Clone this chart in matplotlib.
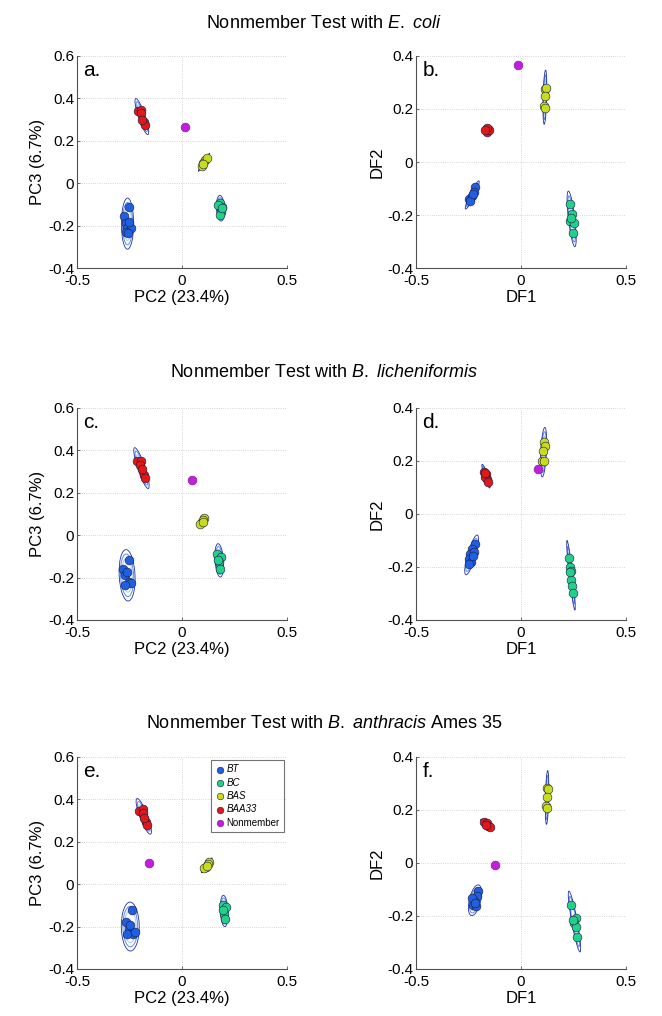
import numpy as np
import matplotlib
matplotlib.use("Agg")
import matplotlib.pyplot as plt
from matplotlib.patches import Ellipse

plt.rcParams['font.family'] = ['Liberation Sans', 'DejaVu Sans']
plt.rcParams['mathtext.fontset'] = 'custom'
plt.rcParams['mathtext.rm'] = 'Liberation Sans'
plt.rcParams['mathtext.it'] = 'Liberation Sans:italic'

GROUPS = ["BT", "BC", "BAS", "BAA33"]
COLORS = {"BT": "#1f5fe0", "BC": "#22d08a", "BAS": "#c8dc1e", "BAA33": "#e01818"}
NONMEMBER_COLOR = "#c21ee0"

# --- panel a: PCA, nonmember E. coli ---
a_bt_x = [-0.252, -0.275, -0.267, -0.260, -0.244, -0.267, -0.252, -0.258]
a_bt_y = [-0.110, -0.157, -0.189, -0.213, -0.213, -0.228, -0.181, -0.235]
a_bc_x = [0.181, 0.189, 0.173, 0.184, 0.181, 0.192]
a_bc_y = [-0.094, -0.110, -0.102, -0.134, -0.150, -0.118]
a_bas_x = [0.094, 0.110, 0.102, 0.118, 0.100]
a_bas_y = [0.082, 0.110, 0.094, 0.118, 0.090]
a_baa_x = [-0.209, -0.193, -0.197, -0.181, -0.178, -0.189]
a_baa_y = [0.342, 0.346, 0.331, 0.291, 0.276, 0.299]
a_non = (0.013, 0.265)

# --- panel b: DFA, nonmember E. coli ---
b_bt_x = [-0.249, -0.217, -0.233, -0.225, -0.241, -0.228]
b_bt_y = [-0.140, -0.096, -0.128, -0.115, -0.147, -0.120]
b_bc_x = [0.232, 0.243, 0.235, 0.251, 0.248, 0.238]
b_bc_y = [-0.159, -0.198, -0.223, -0.230, -0.268, -0.210]
b_bas_x = [0.113, 0.118, 0.110, 0.116, 0.112]
b_bas_y = [0.275, 0.281, 0.211, 0.205, 0.250]
b_baa_x = [-0.165, -0.155, -0.160, -0.150, -0.163, -0.170]
b_baa_y = [0.120, 0.125, 0.113, 0.120, 0.130, 0.122]
b_non = (-0.014, 0.365)

# --- panel c: PCA, nonmember B. licheniformis ---
c_bt_x = [-0.253, -0.280, -0.269, -0.253, -0.242, -0.272, -0.261]
c_bt_y = [-0.119, -0.159, -0.190, -0.222, -0.225, -0.235, -0.175]
c_bc_x = [0.169, 0.188, 0.177, 0.180, 0.173]
c_bc_y = [-0.087, -0.103, -0.127, -0.159, -0.119]
c_bas_x = [0.094, 0.106, 0.100, 0.088, 0.098]
c_bas_y = [0.060, 0.079, 0.070, 0.051, 0.064]
c_baa_x = [-0.214, -0.194, -0.198, -0.183, -0.178, -0.191]
c_baa_y = [0.349, 0.349, 0.333, 0.286, 0.270, 0.310]
c_non = (0.047, 0.262)

# --- panel d: DFA, nonmember B. licheniformis ---
d_bt_x = [-0.217, -0.233, -0.241, -0.249, -0.238, -0.225, -0.249, -0.230]
d_bt_y = [-0.112, -0.131, -0.150, -0.169, -0.182, -0.143, -0.189, -0.160]
d_bc_x = [0.228, 0.235, 0.240, 0.238, 0.245, 0.248, 0.232]
d_bc_y = [-0.165, -0.200, -0.215, -0.250, -0.270, -0.300, -0.220]
d_bas_x = [0.108, 0.113, 0.100, 0.111, 0.105]
d_bas_y = [0.270, 0.257, 0.200, 0.200, 0.238]
d_baa_x = [-0.175, -0.165, -0.160, -0.170, -0.158, -0.172]
d_baa_y = [0.160, 0.150, 0.130, 0.140, 0.120, 0.155]
d_non = (0.079, 0.171)

# --- panel e: PCA, nonmember B. anthracis Ames 35 ---
e_bt_x = [-0.237, -0.266, -0.253, -0.234, -0.261, -0.247, -0.226]
e_bt_y = [-0.123, -0.179, -0.210, -0.234, -0.234, -0.194, -0.226]
e_bc_x = [0.196, 0.209, 0.201, 0.204, 0.193]
e_bc_y = [-0.100, -0.107, -0.139, -0.163, -0.123]
e_bas_x = [0.114, 0.130, 0.122, 0.106, 0.118]
e_bas_y = [0.082, 0.106, 0.095, 0.074, 0.086]
e_baa_x = [-0.203, -0.187, -0.184, -0.171, -0.168, -0.179]
e_baa_y = [0.343, 0.354, 0.335, 0.295, 0.280, 0.311]
e_non = (-0.155, 0.098)

# --- panel f: DFA, nonmember B. anthracis Ames 35 ---
f_bt_x = [-0.203, -0.211, -0.223, -0.230, -0.214, -0.234, -0.218]
f_bt_y = [-0.107, -0.126, -0.145, -0.158, -0.164, -0.133, -0.152]
f_bc_x = [0.239, 0.260, 0.252, 0.260, 0.268, 0.249]
f_bc_y = [-0.158, -0.208, -0.227, -0.240, -0.278, -0.215]
f_bas_x = [0.124, 0.128, 0.121, 0.126, 0.122]
f_bas_y = [0.284, 0.278, 0.215, 0.208, 0.250]
f_baa_x = [-0.175, -0.163, -0.155, -0.147, -0.166]
f_baa_y = [0.154, 0.149, 0.141, 0.136, 0.144]
f_non = (-0.126, -0.006)

panels = [
    ("a.", [(a_bt_x, a_bt_y), (a_bc_x, a_bc_y), (a_bas_x, a_bas_y), (a_baa_x, a_baa_y)], a_non),
    ("b.", [(b_bt_x, b_bt_y), (b_bc_x, b_bc_y), (b_bas_x, b_bas_y), (b_baa_x, b_baa_y)], b_non),
    ("c.", [(c_bt_x, c_bt_y), (c_bc_x, c_bc_y), (c_bas_x, c_bas_y), (c_baa_x, c_baa_y)], c_non),
    ("d.", [(d_bt_x, d_bt_y), (d_bc_x, d_bc_y), (d_bas_x, d_bas_y), (d_baa_x, d_baa_y)], d_non),
    ("e.", [(e_bt_x, e_bt_y), (e_bc_x, e_bc_y), (e_bas_x, e_bas_y), (e_baa_x, e_baa_y)], e_non),
    ("f.", [(f_bt_x, f_bt_y), (f_bc_x, f_bc_y), (f_bas_x, f_bas_y), (f_baa_x, f_baa_y)], f_non),
]

row_titles = [
    r"Nonmember Test with $\it{E.}$ $\it{coli}$",
    r"Nonmember Test with $\it{B.}$ $\it{licheniformis}$",
    r"Nonmember Test with $\it{B.}$ $\it{anthracis}$ Ames 35",
]


def conf_ellipse(ax, x, y, n_std, **kw):
    '''confidence ellipse from the covariance of the points'''
    x, y = np.asarray(x), np.asarray(y)
    vals, vecs = np.linalg.eigh(np.cov(x, y))
    angle = np.degrees(np.arctan2(vecs[1, 1], vecs[0, 1]))
    w = 2 * n_std * np.sqrt(vals[1])
    h = 2 * n_std * np.sqrt(vals[0])
    ax.add_patch(Ellipse((x.mean(), y.mean()), w, h, angle=angle, fill=False, **kw))


fig = plt.figure(figsize=(6.62, 10.16), dpi=100)

lefts = [0.1163, 0.6284]
bottoms = [0.7362, 0.3898, 0.0463]
W, H = 0.3172, 0.2087

for i, (letter, groups, non) in enumerate(panels):
    row, col = divmod(i, 2)
    ax = fig.add_axes([lefts[col], bottoms[row], W, H])
    pca = (col == 0)

    for name, (gx, gy) in zip(GROUPS, groups):
        # nested ellipses: light inner, dark outer
        conf_ellipse(ax, gx, gy, 1.9, edgecolor="#a8c6ff", lw=0.7, zorder=2)
        conf_ellipse(ax, gx, gy, 2.4, edgecolor="#5b8cf0", lw=0.7, zorder=2)
        conf_ellipse(ax, gx, gy, 2.9, edgecolor="#2030a0", lw=0.6, zorder=2)
        ax.scatter(gx, gy, s=40, color=COLORS[name], edgecolors="#1a1a40",
                   linewidths=0.4, zorder=3, label=name)
    ax.scatter([non[0]], [non[1]], s=40, color=NONMEMBER_COLOR,
               edgecolors="#7a1090", linewidths=0.4, zorder=3, label="Nonmember")

    ax.set_xlim(-0.5, 0.5)
    ax.set_xticks([-0.5, 0, 0.5])
    if pca:
        ax.set_ylim(-0.4, 0.6)
        ax.set_yticks([-0.4, -0.2, 0, 0.2, 0.4, 0.6])
        ax.set_xlabel("PC2 (23.4%)", fontsize=12, labelpad=2)
        ax.set_ylabel("PC3 (6.7%)", fontsize=12, labelpad=2)
    else:
        ax.set_ylim(-0.4, 0.4)
        ax.set_yticks([-0.4, -0.2, 0, 0.2, 0.4])
        ax.set_xlabel("DF1", fontsize=12, labelpad=2)
        ax.set_ylabel("DF2", fontsize=12, labelpad=2)
    ax.xaxis.set_major_formatter(plt.FuncFormatter(lambda v, p: "%g" % round(v, 2)))
    ax.yaxis.set_major_formatter(plt.FuncFormatter(lambda v, p: "%g" % round(v, 2)))

    ax.grid(True, linestyle=":", color="#c8c8c8", lw=0.6)
    ax.set_axisbelow(True)
    for s in ["top", "right"]:
        ax.spines[s].set_visible(False)
    for s in ["left", "bottom"]:
        ax.spines[s].set_color("#505050")
        ax.spines[s].set_linewidth(0.8)
    ax.tick_params(direction="in", length=2, width=0.6, color="#505050",
                   labelsize=11)
    ax.tick_params(axis="x", pad=4)
    ax.tick_params(axis="y", pad=2)

    ax.text(0.03, 0.975, letter, transform=ax.transAxes, fontsize=15,
            va="top", ha="left")

    if letter == "e.":
        leg = ax.legend(loc="upper right", fontsize=7, frameon=True,
                        fancybox=False, borderaxespad=0.35, handletextpad=0.2,
                        labelspacing=0.35, borderpad=0.4, handlelength=1.0,
                        scatterpoints=1, markerscale=0.75)
        leg.get_frame().set_edgecolor("#505050")
        leg.get_frame().set_linewidth(0.8)
        for t in leg.get_texts()[:4]:
            t.set_style("italic")

for r, t in enumerate(row_titles):
    fig.text(0.489, [0.977, 0.633, 0.288][r], t, ha="center", va="center",
             fontsize=13)

fig.savefig("out.png", dpi=100)
